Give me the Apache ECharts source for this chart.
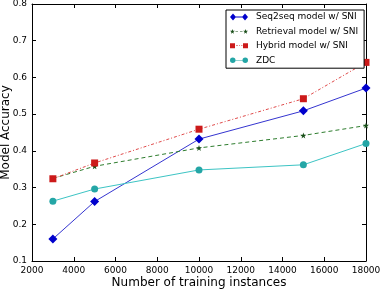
<!DOCTYPE html>
<html>
<head>
<meta charset="utf-8">
<script src="https://cdn.jsdelivr.net/npm/echarts@6/dist/echarts.min.js"></script>
<style>
  html, body { margin: 0; padding: 0; background: #fff; }
  #chart { width: 383px; height: 292px; }
</style>
</head>
<body>
<div id="chart"></div>
<script>
// training set sizes and accuracy per model
const trainSizes = [3000, 5000, 10000, 15000, 18000];
const seq2seqAcc = [0.160, 0.262, 0.432, 0.509, 0.571];
const retrievalAcc = [0.325, 0.358, 0.408, 0.442, 0.469];
const hybridAcc = [0.324, 0.367, 0.459, 0.542, 0.641];
const zdcAcc = [0.263, 0.296, 0.348, 0.362, 0.420];
const seriesNames = ['Seq2seq model w/ SNI', 'Retrieval model w/ SNI', 'Hybrid model w/ SNI', 'ZDC'];

const FONT = 'DejaVu Sans';
const starPath = 'path://M2.5,1L3.09,2.69L4.88,2.73L3.45,3.81L3.97,5.52L2.5,4.5L1.03,5.52L1.55,3.81L0.12,2.73L1.91,2.69Z';

// legend samples: two markers joined by the series line style
const legendIcons = [
  'path://M0,3.5L3,0L6,3.5L3,7Z M12,3.5L15,0L18,3.5L15,7Z M3,3H15V4H3Z',
  'path://M2.5,1L3.09,2.69L4.88,2.73L3.45,3.81L3.97,5.52L2.5,4.5L1.03,5.52L1.55,3.81L0.12,2.73L1.91,2.69Z ' +
    'M15.5,1L16.09,2.69L17.88,2.73L16.45,3.81L16.97,5.52L15.5,4.5L14.03,5.52L14.55,3.81L13.12,2.73L14.91,2.69Z ' +
    'M5.5,3.3H8V3.8H5.5Z M10,3.3H12.5V3.8H10Z',
  'path://M0,1H5V6H0Z M13,1H18V6H13Z M6,3.2H8V3.8H6Z M9,3.2H10V3.8H9Z M11,3.2H12.5V3.8H11Z',
  'path://M0,3.5A2.75,2.75,0,1,0,5.5,3.5A2.75,2.75,0,1,0,0,3.5Z M12.5,3.5A2.75,2.75,0,1,0,18,3.5A2.75,2.75,0,1,0,12.5,3.5Z M5.5,3.2H12.5V3.8H5.5Z'
];

function pairs(ys) {
  return trainSizes.map((x, i) => [x, ys[i]]);
}

const chart = echarts.init(document.getElementById('chart'), null, { renderer: 'canvas' });

const tickStyle = { inside: true, length: 4, lineStyle: { color: '#000', width: 1 } };
const frameLine = { show: true, onZero: false, lineStyle: { color: '#000', width: 1 } };

const option = {
  animation: false,
  backgroundColor: '#fff',
  grid: { left: 32, right: 17, top: 4, bottom: 31, outerBoundsMode: 'none', containLabel: false },
  legend: {
    orient: 'vertical',
    left: 226,
    top: 10,
    padding: [2, 6, 3, 4],
    itemGap: 4.4,
    itemWidth: 18,
    itemHeight: 7,
    borderColor: '#000',
    borderWidth: 1,
    borderRadius: 0,
    backgroundColor: '#fff',
    textStyle: { fontFamily: FONT, fontSize: 9, color: '#000', lineHeight: 10, padding: [0, 0, 0, 3] },
    data: seriesNames.map((n, i) => ({ name: n, icon: legendIcons[i] }))
  },
  xAxis: [
    {
      type: 'value', min: 2000, max: 18000, interval: 2000,
      name: 'Number of training instances', nameLocation: 'middle', nameGap: 16,
      nameMoveOverlap: false,
      nameTextStyle: { fontFamily: FONT, fontSize: 12, color: '#000' },
      axisLine: frameLine, axisTick: tickStyle,
      axisLabel: { fontFamily: FONT, fontSize: 9, color: '#000', margin: 5,
        formatter: v => String(v) },
      splitLine: { show: false }
    },
    {
      type: 'value', position: 'top', min: 2000, max: 18000, interval: 2000,
      axisLine: frameLine, axisTick: tickStyle,
      axisLabel: { show: false }, splitLine: { show: false }
    }
  ],
  yAxis: [
    {
      type: 'value', min: 0.1, max: 0.8, interval: 0.1,
      name: 'Model Accuracy', nameLocation: 'middle', nameGap: 20,
      nameMoveOverlap: false,
      nameTextStyle: { fontFamily: FONT, fontSize: 12, color: '#000' },
      axisLine: frameLine, axisTick: tickStyle,
      axisLabel: { fontFamily: FONT, fontSize: 9, color: '#000', margin: 5,
        formatter: v => v.toFixed(1) },
      splitLine: { show: false }
    },
    {
      type: 'value', position: 'right', min: 0.1, max: 0.8, interval: 0.1,
      axisLine: frameLine, axisTick: tickStyle,
      axisLabel: { show: false }, splitLine: { show: false }
    }
  ],
  series: [
    {
      name: seriesNames[0], type: 'line', data: pairs(seq2seqAcc),
      symbol: 'diamond', symbolSize: 9,
      itemStyle: { color: '#0000cc' },
      lineStyle: { color: '#3535d0', width: 1 }
    },
    {
      name: seriesNames[1], type: 'line', data: pairs(retrievalAcc),
      symbol: starPath, symbolSize: 6,
      itemStyle: { color: '#1a4f1a' },
      lineStyle: { color: '#2e7d2e', width: 1, type: [4, 3] }
    },
    {
      name: seriesNames[2], type: 'line', data: pairs(hybridAcc),
      symbol: 'rect', symbolSize: 7,
      itemStyle: { color: '#cc1a1a' },
      lineStyle: { color: '#e04a4a', width: 1, type: [3, 2, 1, 2] }
    },
    {
      name: seriesNames[3], type: 'line', data: pairs(zdcAcc),
      symbol: 'circle', symbolSize: 7,
      itemStyle: { color: '#24a6a6' },
      lineStyle: { color: '#3cc4c4', width: 1 }
    }
  ]
};

chart.setOption(option);
</script>
</body>
</html>
